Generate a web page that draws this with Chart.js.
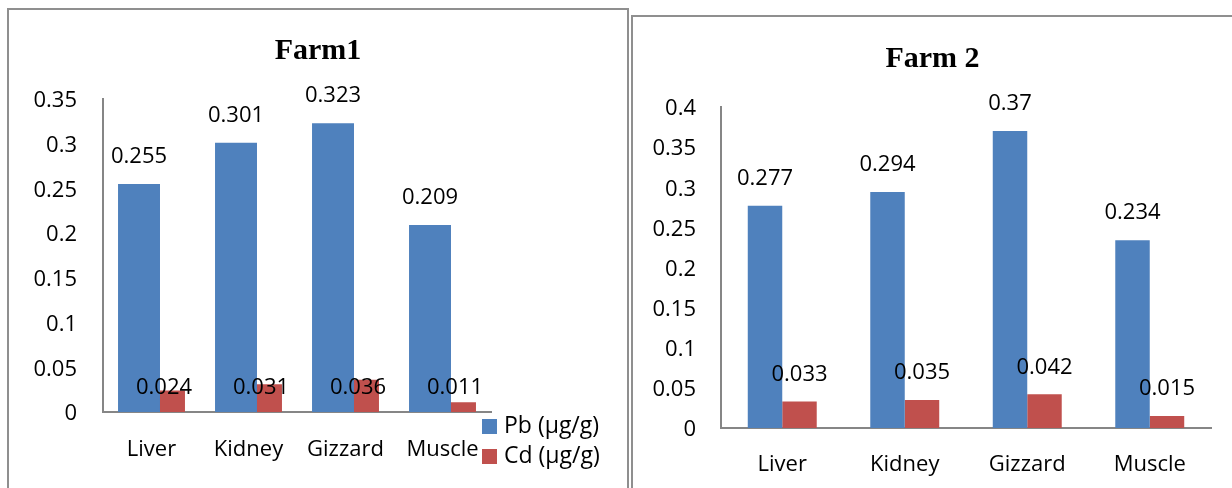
<!DOCTYPE html>
<html>
<head>
<meta charset="utf-8">
<script src="https://cdn.jsdelivr.net/npm/chart.js@4.4.0/dist/chart.umd.min.js"></script>
<style>
html,body{margin:0;padding:0;background:#fff;width:1232px;height:488px;overflow:hidden;}
.panel{position:absolute;box-sizing:border-box;border:2px solid #8f8f8f;background:#fff;}
#p1{left:7px;top:8px;width:622px;height:500px;}
#p2{left:631px;top:15px;width:620px;height:500px;}
canvas{position:absolute;}
#c1{left:9px;top:10px;width:618px;height:478px;}
#c2{left:633px;top:17px;width:599px;height:471px;}
</style>
</head>
<body>
<div class="panel" id="p1"></div>
<div class="panel" id="p2"></div>
<canvas id="c1" width="618" height="478"></canvas>
<canvas id="c2" width="599" height="471"></canvas>
<script>
const categories = ['Liver', 'Kidney', 'Gizzard', 'Muscle'];
const seriesNames = ['Pb (µg/g)', 'Cd (µg/g)'];
const farm1Pb = [0.255, 0.301, 0.323, 0.209];
const farm1Cd = [0.024, 0.031, 0.036, 0.011];
const farm2Pb = [0.277, 0.294, 0.37, 0.234];
const farm2Cd = [0.033, 0.035, 0.042, 0.015];
const farm1TickValues = [0, 0.05, 0.1, 0.15, 0.2, 0.25, 0.3, 0.35];
const farm1TickLabels = ['0', '0.05', '0.1', '0.15', '0.2', '0.25', '0.3', '0.35'];
const farm2TickValues = [0, 0.05, 0.1, 0.15, 0.2, 0.25, 0.3, 0.35, 0.4];
const farm2TickLabels = ['0', '0.05', '0.1', '0.15', '0.2', '0.25', '0.3', '0.35', '0.4'];
const titles = ['Farm1', 'Farm 2'];

const pbColor = '#4F81BD';
const cdColor = '#C0504D';
const axisColor = '#868686';
const FONT = 'Open Sans';

const valueLabels = {
  id: 'valueLabels',
  afterDatasetsDraw(chart, args, opts) {
    const ctx = chart.ctx;
    ctx.save();
    ctx.font = opts.size + 'px "' + FONT + '"';
    ctx.fillStyle = '#000';
    ctx.textAlign = 'center';
    ctx.textBaseline = 'middle';
    chart.data.datasets.forEach((ds, di) => {
      const meta = chart.getDatasetMeta(di);
      meta.data.forEach((bar, i) => {
        let y = bar.y - opts.offset;
        if (opts.fixed && opts.fixed[di] != null) {
          y = chart.scales.y.getPixelForValue(opts.fixed[di]);
        }
        ctx.fillText(String(ds.data[i]), bar.x, y);
      });
    });
    ctx.restore();
  }
};

const sideLegend = {
  id: 'sideLegend',
  afterDraw(chart, args, opts) {
    if (!opts.show) return;
    const ctx = chart.ctx;
    ctx.save();
    ctx.font = opts.size + 'px "' + FONT + '"';
    ctx.textAlign = 'left';
    ctx.textBaseline = 'middle';
    chart.data.datasets.forEach((ds, i) => {
      const y = opts.y + i * opts.gap;
      ctx.fillStyle = ds.backgroundColor;
      ctx.fillRect(opts.x, y, opts.box, opts.box);
      ctx.fillStyle = '#000';
      ctx.fillText(ds.label, opts.x + opts.box + opts.textGap, y + opts.box / 2);
    });
    ctx.restore();
  }
};

function makeChart(id, cfg) {
  const tickFont = { family: FONT, size: 22 };
  return new Chart(document.getElementById(id), {
    type: 'bar',
    data: {
      labels: categories,
      datasets: [
        { label: seriesNames[0], data: cfg.pb, backgroundColor: pbColor, borderWidth: 0,
          categoryPercentage: cfg.catPct, barPercentage: cfg.barPct },
        { label: seriesNames[1], data: cfg.cd, backgroundColor: cdColor, borderWidth: 0,
          categoryPercentage: cfg.catPct, barPercentage: cfg.barPct }
      ]
    },
    options: {
      responsive: false,
      animation: false,
      devicePixelRatio: 1,
      layout: { padding: 0 },
      plugins: {
        legend: { display: false },
        tooltip: { enabled: false },
        title: {
          display: true,
          text: cfg.title,
          color: '#000',
          font: { family: 'Liberation Serif', size: 30, weight: 'bold', lineHeight: 1.2 },
          padding: { top: cfg.titleTop, bottom: cfg.titleBottom }
        },
        valueLabels: { size: 22, offset: 27, fixed: cfg.fixed },
        sideLegend: cfg.legend
      },
      scales: {
        x: {
          type: 'category',
          offset: true,
          grid: { display: false, drawTicks: false },
          border: { display: true, color: axisColor, width: 2 },
          ticks: { font: tickFont, color: '#000', padding: cfg.xPad, maxRotation: 0, autoSkip: false },
          afterFit(s) { s.height = cfg.xHeight; s.paddingLeft = 0; s.paddingRight = 0; }
        },
        y: {
          min: 0,
          max: cfg.yMax,
          grid: { display: false, drawTicks: false },
          border: { display: true, color: axisColor, width: 2 },
          ticks: {
            font: tickFont, color: '#000', padding: cfg.yPad, labelOffset: 2,
            callback: (v, i) => cfg.tickLabels[i]
          },
          afterBuildTicks(s) { s.ticks = cfg.tickValues.map(v => ({ value: v })); },
          afterFit(s) { s.width = cfg.yWidth; s.paddingTop = 0; s.paddingBottom = 0; }
        },
        spacer: {
          type: 'linear',
          position: 'right',
          display: true,
          grid: { display: false, drawTicks: false },
          border: { display: false },
          ticks: { display: false },
          afterFit(s) { s.width = cfg.padRight; s.paddingTop = 0; s.paddingBottom = 0; }
        }
      }
    },
    plugins: [valueLabels, sideLegend]
  });
}

function build() {
  makeChart('c1', {
    title: titles[0], pb: farm1Pb, cd: farm1Cd,
    catPct: 0.515, barPct: 1.68,
    padRight: 136, yWidth: 94, yPad: 26, xHeight: 76, xPad: 25,
    titleTop: 23, titleBottom: 30,
    yMax: 0.35, tickValues: farm1TickValues, tickLabels: farm1TickLabels,
    fixed: [null, 0.027],
    legend: { show: true, x: 473, y: 409, box: 15, gap: 30, textGap: 7, size: 23 }
  });
  makeChart('c2', {
    title: titles[1], pb: farm2Pb, cd: farm2Cd,
    catPct: 0.563, barPct: 1.0,
    padRight: 21, yWidth: 88, yPad: 25, xHeight: 60, xPad: 24,
    titleTop: 24, titleBottom: 30,
    yMax: 0.4, tickValues: farm2TickValues, tickLabels: farm2TickLabels,
    fixed: null,
    legend: { show: false }
  });
}

if (document.fonts && document.fonts.load) {
  Promise.all([
    document.fonts.load('22px "Open Sans"'),
    document.fonts.load('bold 30px "Liberation Serif"')
  ]).then(build, build);
} else {
  build();
}
</script>
</body>
</html>
